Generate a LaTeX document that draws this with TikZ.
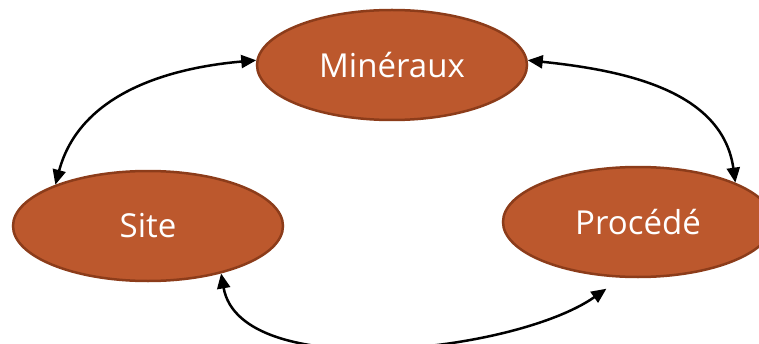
\documentclass[tikz,border=0pt]{standalone}
\usepackage{fontspec}
\setmainfont{Open Sans}
\usetikzlibrary{arrows.meta,shapes.geometric}

\definecolor{rustfill}{RGB}{188,88,45}
\definecolor{rustline}{RGB}{140,60,26}

\begin{document}
\begin{tikzpicture}[
    x=1pt, y=1pt,
    % --- Node styles ---
    theme/.style={draw=rustline, line width=2.5pt, fill=rustfill, ellipse,
        minimum width=270pt, minimum height=110pt, inner sep=0pt,
        text=white, font=\fontsize{33}{40}\selectfont},
    % --- Edge styles ---
    link/.style={{Triangle[length=15pt,width=13pt]}-{Triangle[length=15pt,width=13pt]},
        line width=2.5pt, black},
]
\useasboundingbox (0,0) rectangle (759,343);

% === The three themes ===
\node[theme] (min) at (392,278) {Minéraux};
\node[theme] (site) at (148,117) {Site};
\node[theme] (proc) at (638,121) {Procédé};

% free end below Procédé
\coordinate (procin) at ([yshift=-12pt]proc.-120);

% --- Connectors ---
\draw[link] (min.178) to[out=185, in=75] (site.156);
\draw[link] (min.2) to[out=-6, in=98] (proc.22);
\draw[link] (site.-33) to[out=-80, in=215, looseness=0.74] (procin);

\end{tikzpicture}
\end{document}
